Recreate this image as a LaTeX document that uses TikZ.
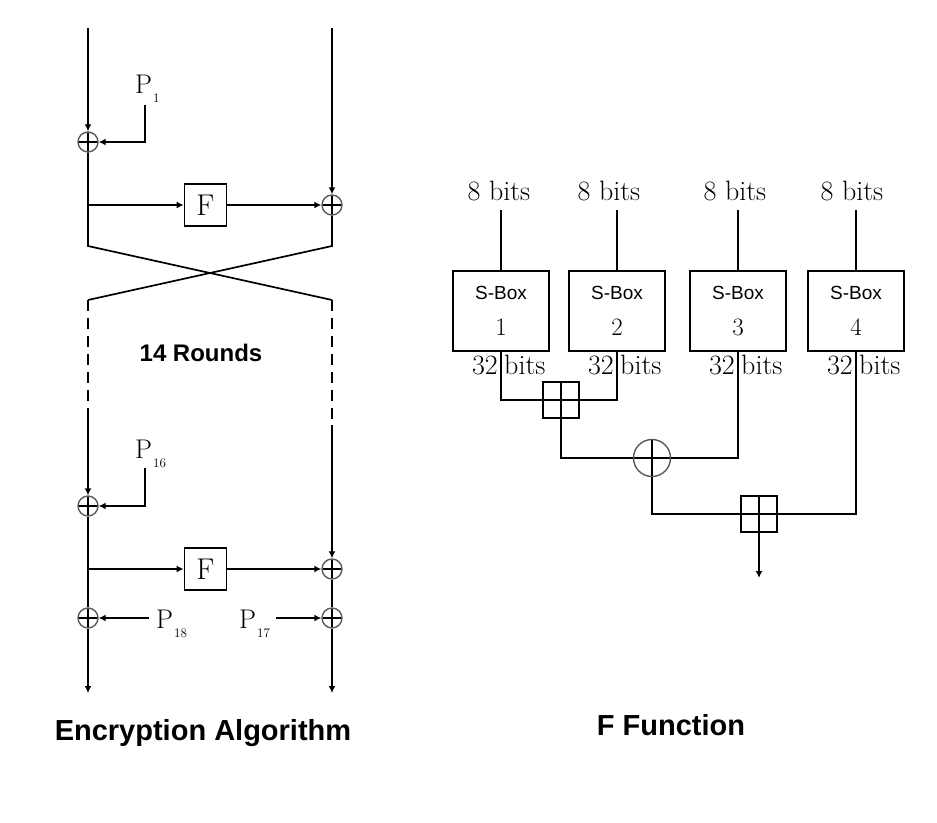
\documentclass[tikz,border=0pt]{standalone}
\usepackage{fontspec}
\newfontfamily\labelsans{Liberation Sans}
\usepackage{tikz}
\usetikzlibrary{arrows.meta, calc}

\newcommand{\pkey}[1]{P\kern1pt\raisebox{-9pt}{\fontsize{13}{13}\selectfont #1}}

\tikzset{
    wire/.style={line width=1.7pt},
    arr/.style={wire, -{Latex[length=7pt,width=7pt]}},
    dash line/.style={wire, dash pattern=on 11pt off 7pt},
    xorc/.style={circle, draw=black!65, line width=1.4pt, minimum size=20pt, inner sep=0pt,
        path picture={\draw[black, line width=1.5pt]
            (path picture bounding box.north) -- (path picture bounding box.south)
            (path picture bounding box.west) -- (path picture bounding box.east);}},
    bigxor/.style={xorc, minimum size=37pt},
    addsq/.style={draw, line width=1.7pt, minimum size=36pt, inner sep=0pt,
        path picture={\draw[line width=1.7pt]
            (path picture bounding box.north) -- (path picture bounding box.south)
            (path picture bounding box.west) -- (path picture bounding box.east);}},
    fbox/.style={draw, line width=1.7pt, minimum size=42pt, inner sep=0pt,
        font=\fontsize{30}{30}\selectfont},
    sbox/.style={draw, line width=1.7pt, minimum width=96pt, minimum height=80pt,
        inner sep=0pt, align=center, font=\fontsize{25}{36}\selectfont},
    keylbl/.style={inner sep=0pt, font=\fontsize{27}{28}\selectfont},
    bitlbl/.style={inner sep=0pt, font=\fontsize{28}{28}\selectfont},
    heading/.style={inner sep=0pt, font=\labelsans\bfseries\fontsize{29}{30}\selectfont},
}

\begin{document}
\begin{tikzpicture}[x=1pt, y=-1pt]
    \useasboundingbox[fill=white] (0,0) rectangle (937,822);

    % Encryption algorithm: round 1
    \coordinate (ltop) at (88,28);
    \coordinate (rtop) at (332,28);
    \node[xorc] (x1) at (88,142) {};
    \node[keylbl, anchor=base west] (p1) at (135,93) {\pkey{1}};
    \coordinate (p1end) at (145,105);
    \draw[arr] (ltop) -- (x1);
    \draw[arr] (p1end) |- (x1);

    \node[fbox] (f1) at (205.5,205) {F};
    \node[xorc] (x2) at (332,205) {};
    \coordinate (b1) at (88,205);
    \draw[arr] (b1) -- (f1);
    \draw[arr] (f1) -- (x2);
    \draw[arr] (rtop) -- (x2);

    % Swap of the halves
    \coordinate (cl1) at (88,246);
    \coordinate (cr1) at (332,246);
    \coordinate (cl2) at (88,300);
    \coordinate (cr2) at (332,300);
    \draw[wire] (x1) -- (cl1) -- (cr2);
    \draw[wire] (x2) -- (cr1) -- (cl2);

    % Rounds left out
    \coordinate (dl) at (88,415);
    \coordinate (dr) at (332,425);
    \draw[dash line] (cl2) -- (dl);
    \draw[dash line] (cr2) -- (dr);
    \node[heading, font=\labelsans\bfseries\fontsize{24}{26}\selectfont] (rounds) at (201,353) {14 Rounds};

    % Round 16
    \node[xorc] (x3) at (88,506) {};
    \node[keylbl, anchor=base west] (p16) at (135,458) {\pkey{16}};
    \coordinate (p16end) at (145,468);
    \draw[arr] (dl) -- (x3);
    \draw[arr] (p16end) |- (x3);

    \node[fbox] (f2) at (205.5,569) {F};
    \node[xorc] (x4) at (332,569) {};
    \coordinate (b2) at (88,569);
    \draw[arr] (b2) -- (f2);
    \draw[arr] (f2) -- (x4);
    \draw[arr] (dr) -- (x4);

    % Output whitening
    \node[xorc] (x5) at (88,618) {};
    \node[xorc] (x6) at (332,618) {};
    \node[keylbl, anchor=base west] (p18) at (156,628) {\pkey{18}};
    \node[keylbl, anchor=base west] (p17) at (239,628) {\pkey{17}};
    \coordinate (p18end) at (149,618);
    \coordinate (p17end) at (276,618);
    \draw[wire] (x3) -- (x5);
    \draw[wire] (x4) -- (x6);
    \draw[arr] (p18end) -- (x5);
    \draw[arr] (p17end) -- (x6);

    \coordinate (outl) at (88,693);
    \coordinate (outr) at (332,693);
    \draw[arr] (x5) -- (outl);
    \draw[arr] (x6) -- (outr);

    \node[heading] (enc) at (203,733) {Encryption Algorithm};

    % F function: S-boxes
    \foreach \i/\xs/\xl in {1/501/499, 2/617/609, 3/738/735, 4/856/852} {
        \node[bitlbl, anchor=base] (in\i) at (\xl,200) {8 bits};
        \node[sbox] (s\i) at (\xs,311) {{\labelsans\fontsize{19}{36}\selectfont S-Box}\\\i};
        \draw[wire] ($(s\i.north |- in\i.base)+(0,10)$) -- (s\i.north);
        \node[bitlbl, anchor=base east] (o\i n) at (\xs-3,374) {32};
        \node[bitlbl, anchor=base west] (o\i b) at (\xs+3,374) {bits};
    }

    % F function: combining
    \node[addsq] (sq1) at (561,400) {};
    \node[bigxor] (bx) at (652,458) {};
    \node[addsq] (sq2) at (759,514) {};
    \coordinate (fout) at (759,578);

    \draw[wire] (s1) |- (sq1);
    \draw[wire] (s2) |- (sq1);
    \draw[wire] (sq1) |- (bx);
    \draw[wire] (s3) |- (bx);
    \draw[wire] (bx) |- (sq2);
    \draw[wire] (s4) |- (sq2);
    \draw[arr] (sq2) -- (fout);

    \node[heading] (ffun) at (671,725) {F Function};
\end{tikzpicture}
\end{document}
